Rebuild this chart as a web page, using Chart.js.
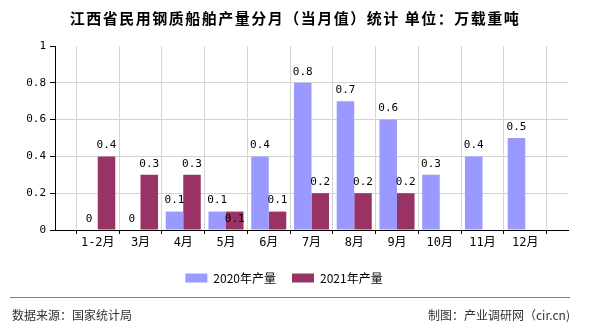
<!DOCTYPE html>
<html>
<head>
<meta charset="utf-8">
<script src="https://cdn.jsdelivr.net/npm/chart.js@4.4.1/dist/chart.umd.min.js"></script>
<style>
  body { margin: 0; background: #fff; }
  #wrap { width: 590px; height: 330px; }
</style>
</head>
<body>
<div id="wrap"><canvas id="shipChart" width="590" height="330"></canvas></div>
<script>
// 江西省民用钢质船舶产量 (万载重吨)
const months = ['1-2月', '3月', '4月', '5月', '6月', '7月', '8月', '9月', '10月', '11月', '12月'];
const output2020 = [0, 0, 0.1, 0.1, 0.4, 0.8, 0.7, 0.6, 0.3, 0.4, 0.5];
const output2021 = [0.4, 0.3, 0.3, 0.1, 0.1, 0.2, 0.2, 0.2, null, null, null];
const yTicks = [0, 0.2, 0.4, 0.6, 0.8, 1];

const titleText = '江西省民用钢质船舶产量分月（当月值）统计 单位：万载重吨';
const sourceText = '数据来源：国家统计局';
const creditText = '制图：产业调研网（cir.cn)';

// empty slot at both ends so the months sit on the grid lines
const pad = arr => [null, ...arr, null];
const labels = ['', ...months, ''];

const monoFont = "'DejaVu Sans Mono', 'Noto Sans CJK SC', monospace";
const cjkFont = "'Noto Sans CJK SC', sans-serif";

// value labels above the bars
const valueLabels = {
    id: 'valueLabels',
    afterDatasetsDraw(chart) {
        const ctx = chart.ctx;
        ctx.save();
        ctx.font = '11px ' + monoFont;
        ctx.fillStyle = '#000';
        ctx.textAlign = 'center';
        ctx.textBaseline = 'middle';
        chart.data.datasets.forEach((ds, i) => {
            const meta = chart.getDatasetMeta(i);
            meta.data.forEach((bar, j) => {
                const v = ds.data[j];
                if (v === null || v === undefined) return;
                let y = bar.y - 11;
                // same height as the neighbour bar: put it inside to avoid overlap
                if (i === 1 && chart.data.datasets[0].data[j] === v) y = bar.y + 8;
                ctx.fillText(String(v), bar.x, y);
            });
        });
        ctx.restore();
    }
};

// title and footer
const frame = {
    id: 'frame',
    afterDraw(chart) {
        const ctx = chart.ctx;
        ctx.save();
        ctx.fillStyle = '#000';
        ctx.font = 'bold 15px ' + cjkFont;
        ctx.letterSpacing = '1.5px';
        ctx.textAlign = 'center';
        ctx.textBaseline = 'middle';
        ctx.fillText(titleText, 295, 18);
        ctx.letterSpacing = '0px';

        ctx.strokeStyle = '#808080';
        ctx.lineWidth = 1;
        ctx.beginPath();
        ctx.moveTo(10, 297.5);
        ctx.lineTo(570, 297.5);
        ctx.stroke();

        ctx.fillStyle = '#333';
        ctx.font = '12px ' + cjkFont;
        ctx.textAlign = 'left';
        ctx.fillText(sourceText, 12, 315);
        ctx.textAlign = 'right';
        ctx.fillText(creditText, 570, 315);
        ctx.restore();
    }
};

const ctx = document.getElementById('shipChart').getContext('2d');
const shipChart = new Chart(ctx, {
    type: 'bar',
    data: {
        labels: labels,
        datasets: [
            {
                label: '2020年产量',
                data: pad(output2020),
                backgroundColor: 'rgb(153, 153, 255)',
                categoryPercentage: 0.82,
                barPercentage: 1
            },
            {
                label: '2021年产量',
                data: pad(output2021),
                backgroundColor: 'rgb(153, 51, 102)',
                categoryPercentage: 0.82,
                barPercentage: 1
            }
        ]
    },
    options: {
        responsive: false,
        animation: false,
        layout: {
            padding: { top: 46, right: 22, left: 0, bottom: 36 }
        },
        scales: {
            x: {
                offset: false,
                grid: {
                    color: '#d4d4d4',
                    tickColor: '#000',
                    tickLength: 4
                },
                border: { color: '#000' },
                ticks: {
                    color: '#000',
                    font: { family: monoFont, size: 12 },
                    padding: 2,
                    maxRotation: 0,
                    autoSkip: false
                },
                afterFit(scale) { scale.height = 26; }
            },
            y: {
                min: 0,
                max: 1,
                afterBuildTicks(scale) {
                    scale.ticks = yTicks.map(v => ({ value: v }));
                },
                grid: {
                    color: c => (c.tick && c.tick.value === 1) ? 'rgba(0,0,0,0)' : '#d4d4d4',
                    tickColor: '#000',
                    tickLength: 5
                },
                border: { color: '#000' },
                ticks: {
                    color: '#000',
                    font: { family: monoFont, size: 11 },
                    padding: 4,
                    callback: v => String(v)
                },
                afterFit(scale) { scale.width = 55; }
            }
        },
        plugins: {
            legend: {
                position: 'bottom',
                labels: {
                    boxWidth: 22,
                    boxHeight: 9,
                    padding: 16,
                    color: '#000',
                    font: { family: cjkFont, size: 12 }
                }
            },
            tooltip: { enabled: false }
        }
    },
    plugins: [valueLabels, frame]
});
</script>
</body>
</html>
